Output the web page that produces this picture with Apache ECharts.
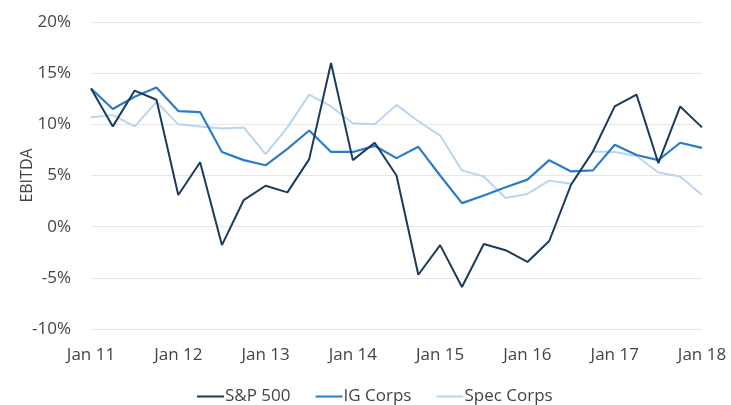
<!DOCTYPE html>
<html>
<head>
<meta charset="utf-8">
<script src="https://cdn.jsdelivr.net/npm/echarts@6/dist/echarts.min.js"></script>
<style>html,body{margin:0;padding:0;background:#fff;}#c{width:731px;height:405px;}</style>
</head>
<body>
<div id="c"></div>
<script>
const categories = [];
const years = ['11','12','13','14','15','16','17','18'];
const quarters = ['Jan','Apr','Jul','Oct'];
for (let y = 0; y < years.length; y++) {
  for (let q = 0; q < 4; q++) {
    if (y === years.length - 1 && q > 0) break;
    categories.push(quarters[q] + ' ' + years[y]);
  }
}
const sp500 = [13.5, 9.8, 13.3, 12.4, 3.1, 6.3, -1.8, 2.6, 4.0, 3.35, 6.6, 16.0, 6.5, 8.2, 5.0, -4.7, -1.8, -5.9, -1.7, -2.3, -3.45, -1.4, 4.1, 7.35, 11.75, 12.9, 6.2, 11.75, 9.7];
const igCorps = [13.5, 11.5, 12.7, 13.6, 11.3, 11.2, 7.3, 6.5, 6.0, 7.6, 9.4, 7.3, 7.3, 7.9, 6.7, 7.8, 5.0, 2.3, 3.05, 3.85, 4.6, 6.5, 5.4, 5.5, 8.0, 7.0, 6.5, 8.2, 7.7];
const specCorps = [10.7, 10.9, 9.8, 12.2, 10.0, 9.8, 9.6, 9.7, 7.1, 9.7, 12.9, 11.75, 10.1, 10.0, 11.9, 10.3, 8.9, 5.5, 4.9, 2.8, 3.2, 4.5, 4.2, 7.35, 7.3, 6.9, 5.3, 4.9, 3.1];
const seriesNames = ['S&P 500', 'IG Corps', 'Spec Corps'];
const colors = ['#1b3b5e', '#2b7bca', '#b9d5ef'];

const chart = echarts.init(document.getElementById('c'));
const font = '"Open Sans", sans-serif';
chart.setOption({
  animation: false,
  grid: {left: 91, right: 29, top: 22, bottom: 76},
  legend: {
    top: 383, left: 192,
    itemWidth: 27, itemHeight: 2, itemGap: 25,
    icon: 'rect',
    textStyle: {color: '#444', fontSize: 17, fontFamily: font, padding: [0, 0, 0, -4]},
    data: seriesNames
  },
  xAxis: {
    type: 'category', data: categories, boundaryGap: false,
    axisLine: {show: true, lineStyle: {color: '#e6e6e6'}},
    axisTick: {show: false},
    axisLabel: {
      interval: 3, color: '#444', fontSize: 17, fontFamily: font, margin: 18,
      formatter: v => v
    }
  },
  yAxis: {
    type: 'value', min: -10, max: 20, interval: 5,
    name: 'EBITDA', nameLocation: 'middle', nameGap: 56, nameRotate: 90,
    nameMoveOverlap: false,
    nameTextStyle: {color: '#444', fontSize: 16, fontFamily: font},
    axisLine: {show: false}, axisTick: {show: false},
    splitLine: {lineStyle: {color: '#e6e6e6'}},
    axisLabel: {color: '#444', fontSize: 17, fontFamily: font, margin: 20, formatter: '{value}%'}
  },
  series: [
    {name: seriesNames[2], type: 'line', data: specCorps, symbol: 'none', color: colors[2], lineStyle: {width: 2, color: colors[2]}, z: 1},
    {name: seriesNames[1], type: 'line', data: igCorps, symbol: 'none', color: colors[1], lineStyle: {width: 2.2, color: colors[1]}, z: 2},
    {name: seriesNames[0], type: 'line', data: sp500, symbol: 'none', color: colors[0], lineStyle: {width: 2, color: colors[0]}, z: 3}
  ]
});
</script>
</body>
</html>
